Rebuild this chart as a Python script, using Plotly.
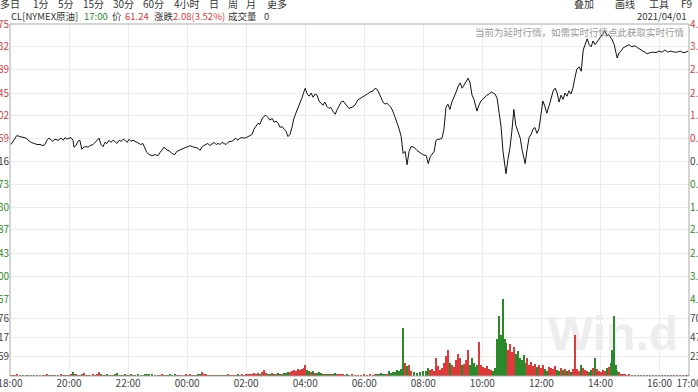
import plotly.graph_objects as go
import pandas as pd

# ---------------- data ----------------
# minutes after 2021-03-31 18:00
minutes = [
    2, 6, 10, 14, 20, 26, 33, 37, 43, 49,
    55, 61, 67, 71, 75, 79, 83, 87, 91, 98,
    104, 108, 112, 116, 120, 124, 128, 130, 134, 138,
    142, 146, 150, 154, 159, 163, 169, 173, 177, 181,
    185, 189, 193, 197, 201, 205, 209, 213, 217, 222,
    226, 230, 234, 238, 242, 246, 250, 254, 260, 266,
    270, 274, 278, 283, 289, 295, 301, 305, 309, 313,
    317, 321, 325, 329, 335, 339, 343, 348, 354, 358,
    362, 366, 370, 374, 378, 382, 386, 390, 394, 398,
    402, 406, 411, 415, 419, 423, 427, 431, 435, 439,
    443, 447, 451, 455, 459, 463, 467, 472, 476, 480,
    484, 488, 492, 496, 500, 504, 508, 512, 516, 520,
    524, 528, 533, 537, 541, 545, 549, 553, 557, 561,
    565, 569, 573, 577, 581, 585, 589, 593, 598, 600,
    604, 608, 612, 616, 620, 624, 628, 632, 636, 640,
    644, 648, 652, 656, 661, 665, 669, 673, 677, 681,
    685, 689, 695, 701, 707, 713, 719, 726, 732, 738,
    742, 746, 750, 754, 758, 762, 766, 770, 774, 778,
    783, 787, 791, 795, 799, 803, 807, 811, 815, 821,
    827, 833, 839, 846, 850, 854, 858, 862, 866, 870,
    874, 878, 882, 886, 890, 894, 898, 902, 906, 911,
    915, 919, 923, 927, 931, 935, 939, 943, 947, 949,
    953, 957, 961, 965, 969, 974, 978, 982, 986, 990,
    994, 998, 1002, 1006, 1008, 1012, 1016, 1020, 1024, 1028,
    1033, 1037, 1041, 1045, 1047, 1051, 1055, 1059, 1063, 1067,
    1071, 1075, 1079, 1083, 1087, 1091, 1096, 1100, 1104, 1108,
    1112, 1116, 1120, 1124, 1128, 1132, 1136, 1140, 1144, 1148,
    1152, 1157, 1161, 1165, 1169, 1173, 1177, 1181, 1185, 1189,
    1193, 1197, 1201, 1205, 1209, 1213, 1217, 1222, 1224, 1228,
    1232, 1234, 1238, 1242, 1246, 1250, 1254, 1258, 1264, 1270,
    1276, 1282, 1289, 1295, 1301, 1307, 1313, 1319, 1325, 1331,
    1337, 1343, 1350, 1356, 1362, 1368, 1374, 1378,
]

price = [
    59.48, 59.54, 59.61, 59.65, 59.63, 59.61, 59.60, 59.56, 59.52, 59.50,
    59.48, 59.48, 59.46, 59.48, 59.56, 59.60, 59.56, 59.54, 59.58, 59.56,
    59.60, 59.56, 59.61, 59.58, 59.60, 59.61, 59.56, 59.43, 59.46, 59.54,
    59.56, 59.39, 59.43, 59.44, 59.43, 59.46, 59.48, 59.52, 59.56, 59.60,
    59.48, 59.44, 59.52, 59.50, 59.56, 59.52, 59.56, 59.54, 59.50, 59.56,
    59.54, 59.58, 59.56, 59.52, 59.58, 59.54, 59.56, 59.54, 59.52, 59.48,
    59.50, 59.41, 59.33, 59.29, 59.27, 59.29, 59.27, 59.33, 59.39, 59.43,
    59.39, 59.37, 59.35, 59.31, 59.29, 59.35, 59.37, 59.39, 59.41, 59.43,
    59.44, 59.46, 59.44, 59.43, 59.43, 59.41, 59.37, 59.43, 59.46, 59.48,
    59.50, 59.46, 59.50, 59.52, 59.48, 59.50, 59.48, 59.52, 59.50, 59.48,
    59.52, 59.54, 59.54, 59.58, 59.60, 59.56, 59.60, 59.61, 59.60, 59.61,
    59.63, 59.65, 59.67, 59.77, 59.82, 59.88, 59.86, 59.96, 60.01, 60.03,
    59.99, 59.94, 59.97, 59.90, 59.92, 59.88, 59.80, 59.82, 59.77, 59.73,
    59.63, 59.67, 59.80, 59.97, 60.07, 60.16, 60.26, 60.35, 60.49, 60.54,
    60.43, 60.39, 60.45, 60.37, 60.43, 60.41, 60.30, 60.26, 60.22, 60.28,
    60.20, 60.16, 60.18, 60.11, 60.05, 60.14, 60.20, 60.28, 60.30, 60.26,
    60.22, 60.16, 60.18, 60.22, 60.32, 60.35, 60.39, 60.43, 60.47, 60.49,
    60.54, 60.52, 60.45, 60.35, 60.28, 60.24, 60.26, 60.22, 60.18, 60.11,
    59.96, 59.88, 59.77, 59.63, 59.31, 59.35, 59.10, 59.35, 59.44, 59.43,
    59.37, 59.33, 59.29, 59.27, 59.12, 59.25, 59.31, 59.35, 59.56, 59.58,
    59.58, 59.60, 59.77, 60.18, 60.24, 60.14, 60.28, 60.35, 60.45, 60.58,
    60.64, 60.54, 60.60, 60.67, 60.73, 60.64, 60.41, 60.33, 60.16, 60.11,
    60.22, 60.30, 60.33, 60.37, 60.41, 60.43, 60.47, 60.45, 60.43, 60.35,
    60.11, 59.82, 59.35, 59.12, 58.93, 59.20, 59.41, 59.73, 60.14, 59.84,
    59.69, 59.60, 59.37, 59.22, 59.12, 59.39, 59.61, 59.67, 59.77, 59.80,
    59.69, 59.77, 60.01, 60.30, 60.20, 60.07, 60.22, 60.37, 60.49, 60.54,
    60.45, 60.28, 60.41, 60.33, 60.45, 60.39, 60.49, 60.43, 60.54, 60.73,
    60.90, 60.94, 60.86, 61.26, 61.39, 61.47, 61.36, 61.32, 61.43, 61.36,
    61.41, 61.47, 61.51, 61.57, 61.62, 61.53, 61.55, 61.49, 61.45, 61.36,
    61.21, 61.11, 61.21, 61.24, 61.30, 61.32, 61.34, 61.36, 61.32, 61.34,
    61.30, 61.26, 61.22, 61.19, 61.21, 61.22, 61.21, 61.24, 61.22, 61.26,
    61.22, 61.24, 61.22, 61.22, 61.24, 61.21, 61.22, 61.24,
]

volume = [
    10, 8, 6, 12, 7, 9, 5, 8, 6, 10,
    7, 5, 9, 6, 14, 8, 7, 10, 6, 8,
    12, 7, 9, 8, 11, 18, 40, 22, 12, 9,
    8, 20, 35, 10, 8, 7, 12, 9, 15, 45,
    18, 10, 8, 12, 9, 7, 10, 14, 30, 10,
    8, 6, 12, 9, 7, 16, 10, 8, 12, 9,
    10, 14, 20, 25, 12, 9, 8, 11, 14, 10,
    7, 9, 12, 10, 15, 8, 7, 10, 9, 12,
    8, 14, 10, 7, 9, 12, 20, 50, 25, 12,
    9, 8, 10, 7, 9, 6, 8, 10, 9, 7,
    12, 10, 8, 11, 9, 14, 10, 12, 9, 15,
    12, 18, 14, 30, 22, 35, 25, 40, 68, 30,
    22, 28, 35, 20, 25, 30, 22, 28, 35, 30,
    45, 40, 55, 70, 60, 75, 65, 80, 90, 125,
    70, 55, 40, 60, 35, 30, 45, 30, 25, 20,
    28, 22, 18, 25, 30, 20, 15, 18, 12, 10,
    14, 9, 12, 8, 10, 7, 12, 9, 15, 10,
    20, 14, 25, 30, 20, 25, 18, 60, 35, 45,
    40, 70, 55, 80, 548, 150, 110, 130, 60, 45,
    35, 40, 55, 60, 90, 70, 80, 60, 205, 110,
    70, 90, 150, 230, 297, 150, 120, 100, 180, 250,
    200, 120, 140, 180, 297, 120, 200, 150, 100, 130,
    388, 120, 100, 90, 110, 80, 70, 60, 90, 420,
    685, 468, 878, 420, 380, 300, 360, 270, 331, 250,
    290, 200, 180, 240, 150, 200, 130, 160, 110, 140,
    100, 120, 90, 130, 80, 60, 100, 90, 80, 110,
    70, 60, 90, 70, 80, 60, 70, 50, 80, 468,
    80, 60, 120, 90, 70, 60, 50, 70, 90, 205,
    80, 60, 50, 70, 60, 90, 100, 150, 300, 685,
    120, 60, 40, 25, 15, 12, 10, 12, 8, 10,
    9, 7, 10, 8, 6, 9, 7, 10, 8, 6,
    9, 7, 8, 6, 9, 7, 8, 5,
]

PREV_CLOSE = 59.16
price_ticks = [61.75, 61.32, 60.89, 60.45, 60.02, 59.59, 59.16,
               58.73, 58.30, 57.87, 57.43, 57.00, 56.57]
pct_labels = ["4.38%", "3.65%", "2.92%", "2.18%", "1.45%", "0.73%", "0.00%",
              "0.73%", "1.45%", "2.18%", "2.92%", "3.65%", "4.38%"]
vol_ticks = [219.59, 439.17, 658.76]
vol_right_labels = ["2354", "4708", "7062"]
VOL_MAX = 878.35
tick_hours = [0, 2, 4, 6, 8, 10, 12, 14, 16, 18, 20, 22, 23]
tick_labels = ["18:00", "20:00", "22:00", "00:00", "02:00", "04:00", "06:00",
               "08:00", "10:00", "12:00", "14:00", "16:00", "17:00"]

# ---------------- styling ----------------
RED = "#e0393a"
GREEN = "#2a8a2a"
NEUTRAL = "#444444"
GRID = "#ebebeb"
FONT = "Noto Sans CJK SC"

W, H = 698, 392
ML, MR, MT, MB = 10, 9, 24, 16
PW, PH = W - ML - MR, H - MT - MB
VOL_FRAC = 77 / PH


def px(x):
    return (x - ML) / PW


def py(y):
    return (H - MB - y) / PH


def colored(text, value):
    if value > PREV_CLOSE + 1e-9:
        c = RED
    elif value < PREV_CLOSE - 1e-9:
        c = GREEN
    else:
        c = NEUTRAL
    return f"<span style='color:{c}'>{text}</span>"


base = pd.Timestamp("2021-03-31 18:00")
times = base + pd.to_timedelta(minutes, unit="min")
tick_times = [base + pd.Timedelta(hours=h) for h in tick_hours]
x_end = base + pd.Timedelta(hours=23)

bar_colors = [RED if i == 0 or price[i] >= price[i - 1] else GREEN
              for i in range(len(price))]

fig = go.Figure()
fig.add_trace(go.Bar(
    x=times, y=volume, xaxis="x", yaxis="y2",
    marker=dict(color=bar_colors, line=dict(width=0)),
    width=100000, hoverinfo="skip",
))
fig.add_trace(go.Scatter(
    x=times, y=price, xaxis="x", yaxis="y", mode="lines",
    line=dict(color="#111111", width=1), hoverinfo="skip",
))
# helper traces so the right-hand axes are drawn
fig.add_trace(go.Scatter(x=[times[0]], y=[PREV_CLOSE], yaxis="y3", mode="markers",
                         marker=dict(opacity=0), hoverinfo="skip"))
fig.add_trace(go.Scatter(x=[times[0]], y=[0], yaxis="y4", mode="markers",
                         marker=dict(opacity=0), hoverinfo="skip"))

tickfont = dict(family=FONT, size=10, color=NEUTRAL)

fig.update_layout(
    width=W, height=H,
    margin=dict(l=ML, r=MR, t=MT, b=MB),
    paper_bgcolor="white", plot_bgcolor="white",
    showlegend=False, bargap=0,
    font=dict(family=FONT, size=10, color="#333333"),
    xaxis=dict(
        type="date", domain=[0, 1], anchor="y2",
        range=[base, x_end], tickvals=tick_times, ticktext=tick_labels,
        showgrid=True, gridcolor=GRID, gridwidth=1, zeroline=False,
        showline=False, ticks="", tickfont=tickfont, automargin=False,
        ticklabeloverflow="allow",
    ),
    yaxis=dict(
        domain=[VOL_FRAC, 1], anchor="x", range=[price_ticks[-1], price_ticks[0]],
        tickvals=price_ticks,
        ticktext=[colored(f"{v:.2f}", v) for v in price_ticks],
        showgrid=True, gridcolor=GRID, zeroline=False, showline=False,
        ticks="", tickfont=tickfont, automargin=False,
    ),
    yaxis2=dict(
        domain=[0, VOL_FRAC], anchor="x", range=[0, VOL_MAX],
        tickvals=vol_ticks, ticktext=[f"{v:.2f}" for v in vol_ticks],
        showgrid=True, gridcolor=GRID, zeroline=False, showline=False,
        ticks="", tickfont=tickfont, automargin=False,
    ),
    yaxis3=dict(
        overlaying="y", side="right", anchor="x",
        range=[price_ticks[-1], price_ticks[0]], tickvals=price_ticks,
        ticktext=[colored(t, v) for t, v in zip(pct_labels, price_ticks)],
        showgrid=False, zeroline=False, showline=False, ticks="",
        tickfont=tickfont, automargin=False,
    ),
    yaxis4=dict(
        overlaying="y2", side="right", anchor="x", range=[0, VOL_MAX],
        tickvals=vol_ticks, ticktext=vol_right_labels,
        showgrid=False, zeroline=False, showline=False, ticks="",
        tickfont=tickfont, automargin=False,
    ),
)

# frame and watermark
fig.add_shape(type="rect", xref="paper", yref="paper", x0=0, x1=1, y0=0, y1=1,
              line=dict(color="#a9a9a9", width=1), fillcolor="rgba(0,0,0,0)",
              layer="above")
fig.add_shape(type="rect", xref="paper", yref="paper",
              x0=px(536), x1=px(690), y0=py(356), y1=py(300),
              line=dict(width=0), fillcolor="rgba(0,0,0,0)", layer="below",
              label=dict(text="<b>Win.d</b>", textposition="middle center",
                         font=dict(family="Liberation Sans", size=48, color="#ededed")))

ann = []


def add_text(text, x, y, size=10.0, color="#333333", anchor="left"):
    ann.append(dict(text=text, x=px(x), y=py(y), xref="paper", yref="paper",
                    xanchor=anchor, yanchor="middle", showarrow=False,
                    font=dict(family=FONT, size=size, color=color), borderpad=0))


for t, x in [("多日", -1), ("1分", 32), ("5分", 57), ("15分", 82), ("30分", 112),
             ("60分", 142), ("4小时", 173), ("日", 208), ("周", 227), ("月", 245),
             ("更多", 266)]:
    add_text(t, x, 4, size=10)
for t, x in [("叠加", 573), ("画线", 614), ("工具", 648), ("F9", 680)]:
    add_text(t, x, 4, size=10)
for t, x, c in [("CL[NYMEX原油]", 10, "#333333"), ("17:00", 83, GREEN),
                ("价", 111, "#333333"), ("61.24", 124, RED),
                ("涨跌", 153, "#333333"), ("2.08(3.52%)", 172, RED),
                ("成交量", 227, "#333333"), ("0", 263, "#333333")]:
    add_text(t, x, 16, size=9.5, color=c)
add_text("2021/04/01", 688, 16, size=9.5, anchor="right")
add_text("当前为延时行情，如需实时行情点此获取实时行情", 686, 32, size=9.5,
         color="#9a9a9a", anchor="right")

fig.update_layout(annotations=ann)

fig.write_html("out.html")
